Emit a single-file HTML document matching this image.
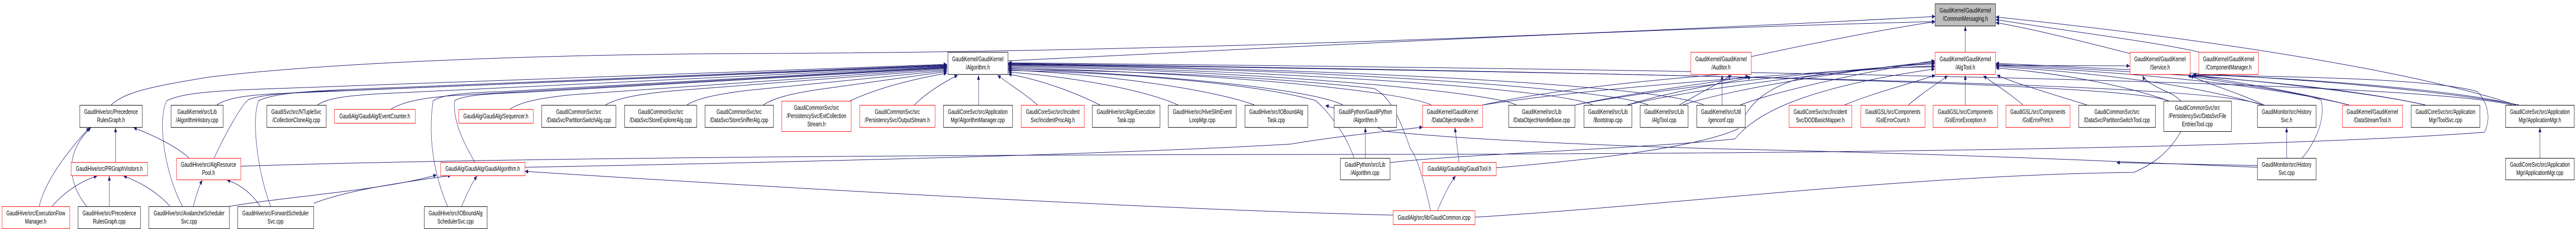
<!DOCTYPE html>
<html><head><meta charset="utf-8"><style>
html,body{margin:0;padding:0;background:#fff;overflow:hidden;width:100%;height:100%;}
svg{display:block;position:fixed;left:0;top:0;width:100vw;height:100vh;}
text{font-family:"Liberation Sans",sans-serif;font-size:13px;fill:#000;text-anchor:middle;}
.e{fill:none;stroke:#191970;stroke-width:1;marker-end:url(#a);}
.b{fill:#fff;stroke:#000;stroke-width:1;}
.r{fill:#fff;stroke:#ff0000;stroke-width:1;}
</style></head><body>
<svg viewBox="0 0 7424 445" preserveAspectRatio="none" xmlns="http://www.w3.org/2000/svg">
<defs><marker id="a" viewBox="0 0 10 10" refX="10" refY="5" markerWidth="10" markerHeight="9" markerUnits="userSpaceOnUse" orient="auto"><path d="M0,0.5 L10,5 L0,9.5z" fill="#191970"/></marker></defs>
<rect width="7424" height="445" fill="#fff"/>

<path class="e" d="M320,204 C360,180 420,170 600,150 C900,125 1500,105 2200,104 C3500,100 4800,60 5577,32"/>
<path class="e" d="M2905,118 C3500,100 4500,60 5577,42"/>
<path class="e" d="M5047,110 C5250,80 5450,55 5577,42"/>
<path class="e" d="M5664,101 L5664,51"/>
<path class="e" d="M6150,106 C6000,80 5850,55 5752,44"/>
<path class="e" d="M6337,101 C6200,80 5950,60 5752,38"/>
<path class="e" d="M7250,204 C7100,170 6700,100 5752,33"/>

<path class="e" d="M625,204 C650,192 700,185 800,182 L2729,127"/>
<path class="e" d="M915,204 C940,192 990,186 1100,182 L2729,129"/>
<path class="e" d="M1127,212 C1160,198 1220,190 1300,186 L2729,131"/>
<path class="e" d="M1470,212 C1500,198 1560,190 1650,184 L2729,133"/>
<path class="e" d="M1745,204 C1780,190 1850,182 1950,176 L2729,135"/>
<path class="e" d="M1980,204 C2010,190 2080,182 2150,176 L2729,137"/>
<path class="e" d="M2200,204 C2230,190 2290,180 2380,172 L2729,139"/>
<path class="e" d="M2450,196 C2500,180 2580,160 2729,142"/>
<path class="e" d="M2635,204 C2670,180 2720,160 2760,146"/>
<path class="e" d="M2820,204 L2820,146"/>
<path class="e" d="M2990,204 C2950,180 2900,160 2875,146"/>
<path class="e" d="M526,401 C470,330 455,230 480,196 C520,182 600,176 800,172 L2729,125"/>
<path class="e" d="M780,401 C740,330 725,230 745,196 C780,184 850,178 1000,174 L2729,126"/>
<path class="e" d="M617,307 C650,260 690,210 715,194 C750,184 850,178 1000,176 L2729,128"/>
<path class="e" d="M1290,401 C1245,330 1235,260 1248,196 C1270,185 1330,180 1450,178 L2729,130"/>
<path class="e" d="M1368,315 C1340,280 1305,240 1310,196 C1330,186 1400,182 1500,180 L2729,132"/>
<path class="e" d="M3170,204 C3100,180 3000,155 2906,144"/>
<path class="e" d="M3395,204 C3300,175 3100,150 2906,140"/>
<path class="e" d="M3615,204 C3500,175 3200,145 2906,136"/>
<path class="e" d="M3870,204 C3800,180 3500,150 2906,133"/>
<path class="e" d="M4125,204 C4050,180 3600,145 2906,131"/>
<path class="e" d="M4370,204 C4300,180 3700,140 2906,129"/>
<path class="e" d="M4590,204 C4500,175 3800,140 2906,127"/>
<path class="e" d="M4750,204 C4650,175 3900,135 2906,126"/>
<path class="e" d="M4910,204 C4800,170 4000,135 2906,125"/>
<path class="e" d="M3902,307 C3880,260 3820,210 3790,195 C3600,160 3200,140 2906,137"/>
<path class="e" d="M4123,409 C4100,340 4080,300 4065,290 C4030,220 4000,185 3960,172 C3600,145 3200,138 2906,134"/>
<path class="e" d="M6520,204 C6400,170 5500,150 2906,124"/>
<path class="e" d="M6250,196 C6150,170 5400,148 2906,123"/>
<path class="e" d="M7240,204 C7000,165 5600,140 2906,122"/>

<path class="e" d="M4840,204 C4900,180 4960,160 4990,146"/>
<path class="e" d="M4963,204 L4963,146"/>
<path class="e" d="M4540,204 C4700,180 4950,160 5040,148"/>
<path class="e" d="M4690,204 C4800,180 4980,160 5047,150"/>
<path class="e" d="M4273,204 C4500,170 4850,150 5047,140"/>

<path class="e" d="M5316,204 C5400,180 5520,160 5577,146"/>
<path class="e" d="M5500,204 C5540,180 5590,160 5613,147"/>
<path class="e" d="M5664,204 L5664,146"/>
<path class="e" d="M5830,204 C5790,180 5740,160 5716,147"/>
<path class="e" d="M6015,204 C5900,180 5800,160 5755,146"/>
<path class="e" d="M4273,204 C4600,170 5200,140 5576,128"/>
<path class="e" d="M4540,204 C4800,170 5300,135 5576,124"/>
<path class="e" d="M4690,204 C4900,170 5350,135 5576,122"/>
<path class="e" d="M4850,204 C5000,170 5400,130 5576,120"/>
<path class="e" d="M5015,204 C5150,170 5450,130 5576,118"/>
<path class="e" d="M4312,326 C4600,310 4900,285 5010,250 C5040,200 5090,170 5200,150 C5350,135 5480,130 5576,130"/>
<path class="e" d="M4006,316 C4200,300 4700,290 5000,270 C5060,220 5200,170 5576,134"/>
<path class="e" d="M6250,196 C6100,160 5900,140 5752,132"/>
<path class="e" d="M6520,204 C6300,160 6000,140 5752,129"/>
<path class="e" d="M6770,204 C6500,160 6100,140 5752,127"/>
<path class="e" d="M6990,204 C6700,160 6200,140 5752,125"/>
<path class="e" d="M7260,204 C6900,160 6300,140 5752,123"/>
<path class="e" d="M5752,127 L6138,128"/>

<path class="e" d="M6525,204 C6450,180 6350,160 6312,147"/>
<path class="e" d="M6770,204 C6600,175 6400,155 6318,146"/>
<path class="e" d="M6990,204 C6800,175 6450,155 6320,146"/>
<path class="e" d="M7250,204 C7100,175 6600,150 6320,145"/>
<path class="e" d="M6635,307 C6680,270 6700,230 6690,195 C6650,180 6400,160 6305,147"/>
<path class="e" d="M4251,422 C4800,400 5500,340 6150,335 C6200,320 6250,300 6290,250 C6310,220 6300,195 6250,180 C6200,165 6180,155 6175,147"/>
<path class="e" d="M694,323 C1500,305 3000,300 4000,300 C5500,298 6600,285 7160,257 C7180,230 7170,200 7140,178 C7000,150 6500,148 6320,146"/>
<path class="e" d="M6506,325 C6300,320 5700,300 5000,290 C4600,283 4200,270 3990,255 C3950,240 3900,220 3820,205"/>

<path class="e" d="M3935,307 L3935,248"/>
<path class="e" d="M4143,409 C4160,380 4180,355 4195,342"/>
<path class="e" d="M4205,315 L4193,248"/>
<path class="e" d="M4015,418 C3500,410 2600,380 1513,333"/>
<path class="e" d="M1513,325 C2300,315 3200,300 3720,280 C3850,265 4000,255 4100,247"/>
<path class="e" d="M6590,307 L6590,248"/>
<path class="e" d="M7320,307 L7320,248"/>
<path class="e" d="M113,401 C130,350 200,290 258,248"/>
<path class="e" d="M150,401 C190,370 240,350 280,342"/>
<path class="e" d="M250,401 C200,360 180,300 262,248"/>
<path class="e" d="M315,401 L315,342"/>
<path class="e" d="M490,401 C450,370 390,350 356,342"/>
<path class="e" d="M557,401 C565,380 575,360 583,350"/>
<path class="e" d="M750,401 C720,370 680,355 654,350"/>
<path class="e" d="M545,307 C500,280 430,260 385,248"/>
<path class="e" d="M333,315 L333,248"/>
<path class="e" d="M660,401 C850,380 1100,370 1258,340"/>
<path class="e" d="M904,395 C1000,370 1150,355 1300,341"/>
<path class="e" d="M1330,401 C1345,380 1355,360 1375,342"/>
<path class="e" d="M6675,324 C6500,322 6300,318 6100,316"/>

<rect class="b" x="5577" y="7.5" width="174" height="43" style="fill:#bfbfbf"/>
<text x="5664" y="24.5">GaudiKernel/GaudiKernel</text><text x="5664" y="40.5">/CommonMessaging.h</text>

<rect class="b" x="2732" y="101.5" width="173" height="43"/><text x="2818" y="119">GaudiKernel/GaudiKernel</text><text x="2818" y="135">/Algorithm.h</text>
<rect class="r" x="4873" y="101.5" width="174" height="43"/><text x="4960" y="119">GaudiKernel/GaudiKernel</text><text x="4960" y="135">/Auditor.h</text>
<rect class="r" x="5577" y="101.5" width="174" height="43"/><text x="5664" y="119">GaudiKernel/GaudiKernel</text><text x="5664" y="135">/AlgTool.h</text>
<rect class="r" x="6139" y="101.5" width="173" height="43"/><text x="6225" y="119">GaudiKernel/GaudiKernel</text><text x="6225" y="135">/Service.h</text>
<rect class="r" x="6337" y="101.5" width="172" height="43"/><text x="6423" y="119">GaudiKernel/GaudiKernel</text><text x="6423" y="135">/ComponentManager.h</text>

<rect class="b" x="230" y="204.5" width="180" height="43"/><text x="320" y="221.5">GaudiHive/src/Precedence</text><text x="320" y="237.5">RulesGraph.h</text>
<rect class="b" x="493" y="204.5" width="150" height="43"/><text x="568" y="221.5">GaudiKernel/src/Lib</text><text x="568" y="237.5">/AlgorithmHistory.cpp</text>
<rect class="b" x="769" y="204.5" width="171" height="43"/><text x="854" y="221.5">GaudiSvc/src/NTupleSvc</text><text x="854" y="237.5">/CollectionCloneAlg.cpp</text>
<rect class="r" x="964" y="212.5" width="233" height="27"/><text x="1080" y="230">GaudiAlg/GaudiAlg/EventCounter.h</text>
<rect class="r" x="1322" y="212.5" width="215" height="27"/><text x="1429" y="230">GaudiAlg/GaudiAlg/Sequencer.h</text>
<rect class="b" x="1561" y="204.5" width="214" height="43"/><text x="1668" y="221.5">GaudiCommonSvc/src</text><text x="1668" y="237.5">/DataSvc/PartitionSwitchAlg.cpp</text>
<rect class="b" x="1800" y="204.5" width="208" height="43"/><text x="1904" y="221.5">GaudiCommonSvc/src</text><text x="1904" y="237.5">/DataSvc/StoreExplorerAlg.cpp</text>
<rect class="b" x="2032" y="204.5" width="197" height="43"/><text x="2130" y="221.5">GaudiCommonSvc/src</text><text x="2130" y="237.5">/DataSvc/StoreSnifferAlg.cpp</text>
<rect class="r" x="2253" y="196.5" width="200" height="59"/><text x="2353" y="213.5">GaudiCommonSvc/src</text><text x="2353" y="229.5">/PersistencySvc/EvtCollection</text><text x="2353" y="245.5">Stream.h</text>
<rect class="r" x="2478" y="204.5" width="217" height="43"/><text x="2586" y="221.5">GaudiCommonSvc/src</text><text x="2586" y="237.5">/PersistencySvc/OutputStream.h</text>
<rect class="b" x="2719" y="204.5" width="199" height="43"/><text x="2818" y="221.5">GaudiCoreSvc/src/Application</text><text x="2818" y="237.5">Mgr/AlgorithmManager.cpp</text>
<rect class="r" x="2943" y="204.5" width="182" height="43"/><text x="3034" y="221.5">GaudiCoreSvc/src/Incident</text><text x="3034" y="237.5">Svc/IncidentProcAlg.h</text>
<rect class="b" x="3148" y="204.5" width="195" height="43"/><text x="3245" y="221.5">GaudiHive/src/AlgoExecution</text><text x="3245" y="237.5">Task.cpp</text>
<rect class="b" x="3367" y="204.5" width="196" height="43"/><text x="3465" y="221.5">GaudiHive/src/HiveSlimEvent</text><text x="3465" y="237.5">LoopMgr.cpp</text>
<rect class="b" x="3588" y="204.5" width="181" height="43"/><text x="3678" y="221.5">GaudiHive/src/IOBoundAlg</text><text x="3678" y="237.5">Task.cpp</text>
<rect class="b" x="3845" y="204.5" width="180" height="43"/><text x="3935" y="221.5">GaudiPython/GaudiPython</text><text x="3935" y="237.5">/Algorithm.h</text>
<rect class="r" x="4100" y="204.5" width="173" height="43"/><text x="4186" y="221.5">GaudiKernel/GaudiKernel</text><text x="4186" y="237.5">/DataObjectHandle.h</text>
<rect class="b" x="4348" y="204.5" width="191" height="43"/><text x="4443" y="221.5">GaudiKernel/src/Lib</text><text x="4443" y="237.5">/DataObjectHandleBase.cpp</text>
<rect class="b" x="4565" y="204.5" width="138" height="43"/><text x="4634" y="221.5">GaudiKernel/src/Lib</text><text x="4634" y="237.5">/Bootstrap.cpp</text>
<rect class="b" x="4727" y="204.5" width="138" height="43"/><text x="4796" y="221.5">GaudiKernel/src/Lib</text><text x="4796" y="237.5">/AlgTool.cpp</text>
<rect class="b" x="4890" y="204.5" width="140" height="43"/><text x="4960" y="221.5">GaudiKernel/src/Util</text><text x="4960" y="237.5">/genconf.cpp</text>
<rect class="r" x="5156" y="204.5" width="181" height="43"/><text x="5246" y="221.5">GaudiCoreSvc/src/Incident</text><text x="5246" y="237.5">Svc/DODBasicMapper.h</text>
<rect class="r" x="5363" y="204.5" width="185" height="43"/><text x="5455" y="221.5">GaudiGSL/src/Components</text><text x="5455" y="237.5">/GslErrorCount.h</text>
<rect class="r" x="5571" y="204.5" width="186" height="43"/><text x="5664" y="221.5">GaudiGSL/src/Components</text><text x="5664" y="237.5">/GslErrorException.h</text>
<rect class="r" x="5781" y="204.5" width="185" height="43"/><text x="5873" y="221.5">GaudiGSL/src/Components</text><text x="5873" y="237.5">/GslErrorPrint.h</text>
<rect class="b" x="5991" y="204.5" width="221" height="43"/><text x="6101" y="221.5">GaudiCommonSvc/src</text><text x="6101" y="237.5">/DataSvc/PartitionSwitchTool.cpp</text>
<rect class="b" x="6236" y="196.5" width="195" height="59"/><text x="6333" y="213.5">GaudiCommonSvc/src</text><text x="6333" y="229.5">/PersistencySvc/DataSvcFile</text><text x="6333" y="245.5">EntriesTool.cpp</text>
<rect class="b" x="6506" y="204.5" width="169" height="43"/><text x="6590" y="221.5">GaudiMonitor/src/History</text><text x="6590" y="237.5">Svc.h</text>
<rect class="r" x="6751" y="204.5" width="173" height="43"/><text x="6837" y="221.5">GaudiKernel/GaudiKernel</text><text x="6837" y="237.5">/DataStreamTool.h</text>
<rect class="b" x="6949" y="204.5" width="198" height="43"/><text x="7048" y="221.5">GaudiCoreSvc/src/Application</text><text x="7048" y="237.5">Mgr/ToolSvc.cpp</text>
<rect class="b" x="7221" y="204.5" width="198" height="43"/><text x="7320" y="221.5">GaudiCoreSvc/src/Application</text><text x="7320" y="237.5">Mgr/ApplicationMgr.h</text>

<rect class="r" x="205" y="315.5" width="220" height="26"/><text x="315" y="332">GaudiHive/src/PRGraphVisitors.h</text>
<rect class="r" x="509" y="307.5" width="185" height="42"/><text x="601" y="324">GaudiHive/src/AlgResource</text><text x="601" y="340">Pool.h</text>
<rect class="r" x="1270" y="315.5" width="243" height="26"/><text x="1391" y="332">GaudiAlg/GaudiAlg/GaudiAlgorithm.h</text>
<rect class="b" x="3863" y="307.5" width="143" height="42"/><text x="3934" y="324">GaudiPython/src/Lib</text><text x="3934" y="340">/Algorithm.cpp</text>
<rect class="r" x="4100" y="315.5" width="212" height="26"/><text x="4206" y="332">GaudiAlg/GaudiAlg/GaudiTool.h</text>
<rect class="b" x="6506" y="307.5" width="169" height="42"/><text x="6590" y="324">GaudiMonitor/src/History</text><text x="6590" y="340">Svc.cpp</text>
<rect class="b" x="7221" y="307.5" width="198" height="42"/><text x="7320" y="324">GaudiCoreSvc/src/Application</text><text x="7320" y="340">Mgr/ApplicationMgr.cpp</text>

<rect class="r" x="6" y="401.5" width="195" height="43"/><text x="103" y="418.5">GaudiHive/src/ExecutionFlow</text><text x="103" y="434.5">Manager.h</text>
<rect class="b" x="225" y="401.5" width="180" height="43"/><text x="315" y="418.5">GaudiHive/src/Precedence</text><text x="315" y="434.5">RulesGraph.cpp</text>
<rect class="b" x="429" y="401.5" width="232" height="43"/><text x="545" y="418.5">GaudiHive/src/AvalancheScheduler</text><text x="545" y="434.5">Svc.cpp</text>
<rect class="b" x="685" y="401.5" width="219" height="43"/><text x="794" y="418.5">GaudiHive/src/ForwardScheduler</text><text x="794" y="434.5">Svc.cpp</text>
<rect class="b" x="1223" y="401.5" width="181" height="43"/><text x="1313" y="418.5">GaudiHive/src/IOBoundAlg</text><text x="1313" y="434.5">SchedulerSvc.cpp</text>
<rect class="r" x="4015" y="409.5" width="236" height="27"/><text x="4133" y="427">GaudiAlg/src/lib/GaudiCommon.icpp</text>
</svg>
</body></html>
